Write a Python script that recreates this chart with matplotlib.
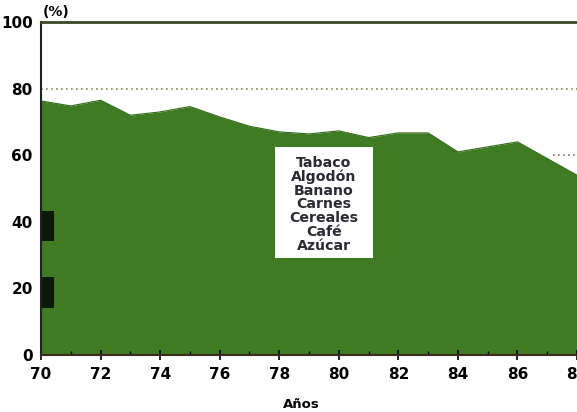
import numpy as np
import matplotlib.pyplot as plt
from matplotlib.patches import Rectangle

# datos (participacion, %)
anios = [70, 71, 72, 73, 74, 75, 76, 77, 78, 79, 80, 81, 82, 83, 84, 85, 86, 87, 88]
valores = [76.3, 74.8, 76.5, 72.0, 73.0, 74.6, 71.5, 68.7, 67.0, 66.4, 67.3, 65.3,
           66.7, 66.7, 61.0, 62.5, 64.0, 59.0, 54.0]
productos = ["Tabaco", "Algodón", "Banano", "Carnes", "Cereales", "Café", "Azúcar"]
xticks = [70, 72, 74, 76, 78, 80, 82, 84, 86, 88]
yticks = [0, 20, 40, 60, 80, 100]

fig = plt.figure(figsize=(5.77, 4.12), dpi=100)
ax = fig.add_axes([0.0711, 0.1383, 0.9289, 0.8083])

ax.fill_between(anios, valores, 0, color="#3f7b22", lw=0)
ax.plot(anios, valores, color="#2f6a18", lw=0.8)

# lineas punteadas de referencia
ax.axhline(80, color="#8a8a50", ls=(0, (1, 2)), lw=1.2)
ax.plot([87.2, 88], [60, 60], color="#8a6a50", ls=(0, (1, 2)), lw=1.2)

# marcas negras sobre el eje
ax.fill_between([70, 70.45], 34.2, 43.2, color="#0b1a08", lw=0)
ax.fill_between([70, 70.45], 14.1, 23.4, color="#0b1a08", lw=0)

ax.set_xlim(70, 88)
ax.set_ylim(0, 100)
ax.set_xticks(xticks)
ax.set_xticks(range(70, 89), minor=True)
ax.set_yticks(yticks)
ax.tick_params(axis="x", which="major", direction="inout", length=7, width=1.2, pad=5)
ax.tick_params(axis="x", which="minor", direction="in", length=3, width=1)
ax.tick_params(axis="y", length=0, pad=6)
for lab in ax.get_xticklabels() + ax.get_yticklabels():
    lab.set_fontweight("heavy")
    lab.set_fontsize(11)

ax.spines["right"].set_visible(False)
ax.spines["top"].set_color("#3a4a20")
ax.spines["top"].set_linewidth(2)
ax.spines["left"].set_color("#222222")
ax.spines["left"].set_linewidth(1.5)
ax.spines["bottom"].set_color("#3a2a20")
ax.spines["bottom"].set_linewidth(1.5)

ax.set_xlabel("Años", fontweight="bold", fontsize=9.5, labelpad=7)
ax.xaxis.set_label_coords(0.485, -0.13)
ax.text(70.05, 100.8, "(%)", fontweight="bold", fontsize=10, ha="left", va="bottom")

# recuadro blanco con la lista de productos
ax.add_patch(Rectangle((77.86, 29.1), 3.29, 33.4, fc="white", ec="none", zorder=3))
ax.text(79.5, 45.3, "\n".join(productos), ha="center", va="center", fontsize=10.2,
        fontweight="bold", color="#2a2a35", linespacing=0.98, zorder=4)

fig.savefig("out.png", dpi=100)
